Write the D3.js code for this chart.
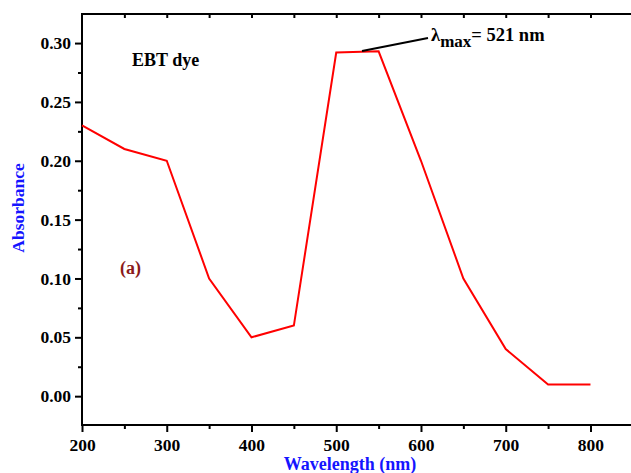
<!DOCTYPE html>
<html>
<head>
<meta charset="utf-8">
<script src="https://cdn.jsdelivr.net/npm/d3@7"></script>
<style>
  html, body { margin: 0; padding: 0; background: #fff; }
  svg { display: block; }
  text { font-family: "Liberation Serif", "Times New Roman", serif; font-weight: bold; }
</style>
</head>
<body>
<svg id="chart" width="631" height="473"></svg>
<script>
// UV-Vis absorbance spectrum of EBT dye
const wavelengths = [200, 250, 300, 350, 400, 450, 500, 550, 600, 650, 700, 750, 800];
const absorbance  = [0.23, 0.21, 0.20, 0.10, 0.05, 0.06, 0.292, 0.293, 0.20, 0.10, 0.04, 0.01, 0.01];
const xTicks = [200, 300, 400, 500, 600, 700, 800];
const yTicks = [0.00, 0.05, 0.10, 0.15, 0.20, 0.25, 0.30];
const peakLabel = { wavelength: 521, value: 0.2925 };

const svg = d3.select("#chart");
const plotLeft = 82, plotRight = 632, plotTop = 14, plotBottom = 425;

const x = d3.scaleLinear().domain([200, 849]).range([plotLeft, plotRight]);
const y = d3.scaleLinear().domain([-0.0245, 0.3247]).range([plotBottom, plotTop]);

// frame: left, top, bottom lines
svg.append("line").attr("x1", plotLeft).attr("x2", plotLeft).attr("y1", plotTop - 1).attr("y2", plotBottom + 1)
  .attr("stroke", "#000").attr("stroke-width", 2);
svg.append("line").attr("x1", plotLeft - 1).attr("x2", plotRight).attr("y1", plotTop).attr("y2", plotTop)
  .attr("stroke", "#000").attr("stroke-width", 2);
svg.append("line").attr("x1", plotLeft - 1).attr("x2", plotRight).attr("y1", plotBottom).attr("y2", plotBottom)
  .attr("stroke", "#000").attr("stroke-width", 2);

// bottom axis: major and minor ticks pointing out
const xMinor = d3.range(250, 850, 100);
const xAxis = d3.axisBottom(x).tickValues(xTicks).tickSize(7).tickFormat(d3.format("d"));
const gx = svg.append("g").attr("transform", `translate(0,${plotBottom})`).call(xAxis);
gx.select(".domain").remove();
gx.selectAll(".tick line").attr("stroke-width", 2);
gx.selectAll(".tick text").attr("font-size", 17.5).attr("fill", "#000").attr("dy", 0).attr("y", 26);
const gxm = svg.append("g").attr("transform", `translate(0,${plotBottom})`)
  .call(d3.axisBottom(x).tickValues(xMinor).tickSize(4).tickFormat(""));
gxm.select(".domain").remove();
gxm.selectAll(".tick line").attr("stroke-width", 2);

// top axis: ticks pointing in
const gt = svg.append("g").attr("transform", `translate(0,${plotTop})`)
  .call(d3.axisBottom(x).tickValues(d3.range(250, 850, 50)).tickSize(4).tickFormat(""));
gt.select(".domain").remove();
gt.selectAll(".tick line").attr("stroke-width", 2);

// left axis
const yAxis = d3.axisLeft(y).tickValues(yTicks).tickSize(7).tickFormat(d3.format(".2f"));
const gy = svg.append("g").attr("transform", `translate(${plotLeft},0)`).call(yAxis);
gy.select(".domain").remove();
gy.selectAll(".tick line").attr("stroke-width", 2);
gy.selectAll(".tick text").attr("font-size", 17.5).attr("fill", "#000").attr("x", -11);
const yMinor = [0.025, 0.075, 0.125, 0.175, 0.225, 0.275];
const gym = svg.append("g").attr("transform", `translate(${plotLeft},0)`)
  .call(d3.axisLeft(y).tickValues(yMinor).tickSize(4).tickFormat(""));
gym.select(".domain").remove();
gym.selectAll(".tick line").attr("stroke-width", 2);

// spectrum line
const pts = wavelengths.map((w, i) => [w, absorbance[i]]);
svg.append("path").datum(pts)
  .attr("fill", "none").attr("stroke", "#ff0000").attr("stroke-width", 2)
  .attr("stroke-linejoin", "miter")
  .attr("d", d3.line().x(d => x(d[0])).y(d => y(d[1])));

// peak annotation: leader line from the plateau to the label
const px = x(peakLabel.wavelength) + 8, py = y(peakLabel.value) - 1;
svg.append("line").attr("x1", px).attr("y1", py).attr("x2", px + 66).attr("y2", py - 13)
  .attr("stroke", "#000").attr("stroke-width", 2);
const ann = svg.append("text").attr("x", px + 69).attr("y", py - 10).attr("font-size", 18.5).attr("fill", "#000");
ann.append("tspan").text("λ");
ann.append("tspan").text("max").attr("font-size", 17).attr("dy", 6);
ann.append("tspan").text("= 521 nm").attr("dy", -6);

// text labels
svg.append("text").attr("x", 132).attr("y", 66).attr("font-size", 18).attr("fill", "#000").text("EBT dye");
svg.append("text").attr("x", 120).attr("y", 274).attr("font-size", 18).attr("fill", "#8b1a1a").text("(a)");

// axis titles
svg.append("text").attr("transform", `translate(24,208) rotate(-90)`)
  .attr("text-anchor", "middle").attr("font-size", 17.5).attr("fill", "#1515ff").text("Absorbance");
svg.append("text").attr("x", 350).attr("y", 470).attr("text-anchor", "middle")
  .attr("font-size", 18).attr("fill", "#1515ff").text("Wavelength (nm)");
</script>
</body>
</html>
